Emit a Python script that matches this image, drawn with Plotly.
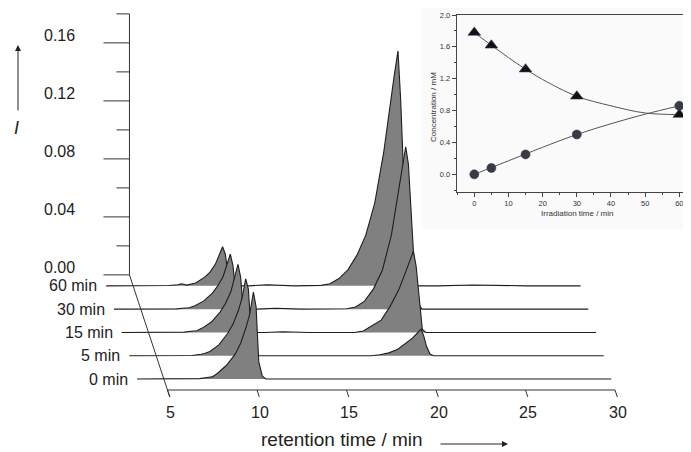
import plotly.graph_objects as go

# chromatograms (retention time / min and intensity)
retention_time = [3.5, 5.0, 6.0, 7.0, 7.5, 7.7, 8.0, 8.5, 9.0, 9.3, 9.6, 9.8, 10.0, 10.15, 10.3, 10.5, 10.7,
	11.5, 12.5, 14.0, 15.5, 16.0, 16.5, 17.0, 17.5, 18.0, 18.5, 19.0, 19.3, 19.6, 19.8, 19.95,
	20.1, 20.3, 20.5, 20.7, 22.0, 24.0, 27.0, 30.0]

intensity_0min = [0, 0, 0, 0.0003, 0.0012, 0.0015, 0.004, 0.0095, 0.0175, 0.025, 0.036, 0.045, 0.060, 0.050, 0.012, 0.002, 0,
	0, 0.0005, 0, 0, 0, 0, 0, 0, 0, 0, 0, 0, 0, 0.0004, 0.0003,
	0, 0, 0, 0, 0, 0, 0, 0]
intensity_5min = [0, 0, 0, 0.0002, 0.001, 0.0015, 0.003, 0.0075, 0.0155, 0.022, 0.0315, 0.040, 0.053, 0.046, 0.017, 0.003, 0,
	0, 0.0004, 0, 0, 0, 0, 0, 0.0007, 0.002, 0.0045, 0.009, 0.012, 0.0158, 0.0184, 0.0135,
	0.0065, 0.0012, 0, 0, 0, 0, 0, 0]
intensity_15min = [0, 0, 0, 0.0002, 0.001, 0.0012, 0.003, 0.007, 0.014, 0.020, 0.028, 0.037, 0.047, 0.038, 0.014, 0.002, 0,
	0, 0.0005, 0, 0, 0, 0, 0.001, 0.0045, 0.0085, 0.018, 0.030, 0.0395, 0.050, 0.056, 0.046,
	0.025, 0.002, 0, 0, 0, 0, 0, 0]
intensity_30min = [0, 0, 0, 0.0002, 0.0008, 0.001, 0.0022, 0.0055, 0.011, 0.016, 0.0225, 0.030, 0.038, 0.030, 0.012, 0.002, 0,
	0, 0.0006, 0, 0, 0.0002, 0.0003, 0.0015, 0.0055, 0.014, 0.027, 0.051, 0.073, 0.097, 0.112, 0.100,
	0.070, 0.025, 0.004, 0, 0, 0, 0, 0]
intensity_60min = [0, 0, 0, 0.0002, 0.0008, 0.0014, 0.0005, 0.002, 0.006, 0.0095, 0.015, 0.021, 0.027, 0.022, 0.009, 0.0015, 0,
	0, 0.0008, 0, 0.0003, 0.0015, 0.005, 0.011, 0.021, 0.035, 0.057, 0.092, 0.121, 0.146, 0.162, 0.128,
	0.080, 0.030, 0.006, 0, 0, 0.0006, 0, 0]

row_labels = ['0 min', '5 min', '15 min', '30 min', '60 min']
row_intensities = [intensity_0min, intensity_5min, intensity_15min, intensity_30min, intensity_60min]

intensity_ticks = [0.00, 0.04, 0.08, 0.12, 0.16]
intensity_minor_ticks = [0.02, 0.06, 0.10, 0.14, 0.18]
time_ticks = [5, 10, 15, 20, 25, 30]

# inset: concentration vs irradiation time
irradiation_time = [0, 5, 15, 30, 60]
conc_triangles = [1.78, 1.62, 1.32, 0.98, 0.75]
conc_circles = [0.0, 0.08, 0.25, 0.50, 0.86]
fit_time = [0, 5, 10, 15, 20, 30, 40, 50, 60]
fit_triangles = [1.78, 1.62, 1.465, 1.32, 1.19, 0.98, 0.86, 0.77, 0.75]
fit_circles = [0.0, 0.085, 0.17, 0.255, 0.34, 0.50, 0.635, 0.755, 0.86]

PAGE = 8  # default body margin of the html page
W, H = 691 - PAGE, 452 - PAGE
FONT = 'Liberation Sans, Arial, sans-serif'

def px_x(p):
	return (p - PAGE) / W

def px_y(p):
	return 1 - (p - PAGE) / H

# pseudo-3D projection: px per minute / per intensity unit and per depth step
PX_PER_MIN = 17.9
PX_PER_I = 1450
X0 = 5 - (167.5 - PAGE) / PX_PER_MIN
X1 = X0 + W / PX_PER_MIN
Y1 = (390 - PAGE) / PX_PER_I
Y0 = Y1 - H / PX_PER_I
DX = -7.7 / PX_PER_MIN  # shift of each row back (min)
DY = 23.3 / PX_PER_I  # shift of each row up (intensity)
K_FIRST = 0.47
K_BACK = 4.94

fig = go.Figure()

# back rows first so front rows cover them
for i in reversed(range(len(row_labels))):
	k = K_FIRST + i
	fig.add_trace(go.Scatter(
		x=[t + k * DX for t in retention_time],
		y=[v + k * DY for v in row_intensities[i]],
		mode='lines', fill='toself', fillcolor='#808080',
		line=dict(color='#1e1e1e', width=1.1),
		hoverinfo='skip', showlegend=False,
	))
	fig.add_annotation(
		x=retention_time[0] + k * DX, y=k * DY, xref='x', yref='y',
		text=row_labels[i], showarrow=False, xanchor='right', yanchor='middle', xshift=-7,
		font=dict(family=FONT, size=16, color='#222'),
	)

shapes = []
axis_line = dict(color='#333', width=1)
xb = 5 + K_BACK * DX
yb = K_BACK * DY
# back intensity axis
shapes.append(dict(type='line', xref='x', yref='y', x0=xb, x1=xb, y0=yb, y1=yb + 0.18, line=axis_line))
for v in intensity_ticks:
	shapes.append(dict(type='line', xref='x', yref='y', x0=xb - 26 / PX_PER_MIN, x1=xb, y0=yb + v, y1=yb + v, line=axis_line))
	fig.add_annotation(
		x=xb - 52 / PX_PER_MIN, y=yb + v + 7 / PX_PER_I, xref='x', yref='y',
		text=f'{v:.2f}', showarrow=False, xanchor='right', yanchor='middle',
		font=dict(family=FONT, size=16, color='#222'),
	)
for v in intensity_minor_ticks:
	shapes.append(dict(type='line', xref='x', yref='y', x0=xb - 13 / PX_PER_MIN, x1=xb, y0=yb + v, y1=yb + v, line=axis_line))
# depth diagonal
shapes.append(dict(type='line', xref='x', yref='y', x0=xb, y0=yb, x1=5 - 0.3 * DX, y1=-0.3 * DY, line=axis_line))
# front time axis
shapes.append(dict(type='line', xref='x', yref='y', x0=5, x1=30, y0=0, y1=0, line=axis_line))
for t in time_ticks:
	shapes.append(dict(type='line', xref='x', yref='y', x0=t, y0=0, x1=t - 0.3 * DX, y1=-0.3 * DY, line=axis_line))
	fig.add_annotation(
		x=t + 0.15, y=-22 / PX_PER_I, xref='x', yref='y',
		text=str(t), showarrow=False, xanchor='center', yanchor='middle',
		font=dict(family=FONT, size=16, color='#222'),
	)

# inset background
shapes.append(dict(type='rect', xref='paper', yref='paper', x0=px_x(422), x1=1, y0=px_y(230), y1=1,
	fillcolor='#fafafa', line=dict(width=0), layer='below'))

def label(x, y, text, size, angle=0, color='#222'):
	fig.add_annotation(x=px_x(x), y=px_y(y), xref='paper', yref='paper', text=text, textangle=angle,
		showarrow=False, xanchor='center', yanchor='middle', borderpad=0,
		font=dict(family=FONT, size=size, color=color))

# axis titles and arrows
label(341.5, 439.5, 'retention time / min', 19)
label(16, 128, '<i>I</i>', 18)
fig.add_annotation(x=px_x(508), y=px_y(444), xref='paper', yref='paper', text='',
	showarrow=True, ax=-69, ay=0, arrowhead=2, arrowsize=1.2, arrowwidth=1, arrowcolor='#222', standoff=0)
fig.add_annotation(x=px_x(18), y=px_y(45), xref='paper', yref='paper', text='',
	showarrow=True, ax=0, ay=67, arrowhead=2, arrowsize=1.2, arrowwidth=1, arrowcolor='#222', standoff=0)

# inset
fig.add_trace(go.Scatter(x=fit_time, y=fit_triangles, mode='lines', line=dict(color='#555', width=1, shape='spline'),
	xaxis='x2', yaxis='y2', showlegend=False, hoverinfo='skip'))
fig.add_trace(go.Scatter(x=fit_time, y=fit_circles, mode='lines', line=dict(color='#555', width=1, shape='spline'),
	xaxis='x2', yaxis='y2', showlegend=False, hoverinfo='skip'))
fig.add_trace(go.Scatter(x=irradiation_time, y=conc_triangles, mode='markers',
	marker=dict(symbol='triangle-up', size=11, color='#111', line=dict(color='#2a3a5a', width=0.6)),
	xaxis='x2', yaxis='y2', showlegend=False))
fig.add_trace(go.Scatter(x=irradiation_time, y=conc_circles, mode='markers',
	marker=dict(symbol='circle', size=9, color='#3a3b42', line=dict(color='#2a3a5a', width=0.6)),
	xaxis='x2', yaxis='y2', showlegend=False))
label(433, 107, 'Concentration / mM', 8, angle=-90, color='#333')
label(577, 213, 'Irradiation time / min', 8, color='#333')

inset_tick_font = dict(family=FONT, size=7.5, color='#333')
fig.update_layout(
	width=W, height=H,
	margin=dict(l=0, r=0, t=0, b=0, autoexpand=False),
	paper_bgcolor='white', plot_bgcolor='rgba(0,0,0,0)',
	shapes=shapes,
	xaxis=dict(domain=[0, 1], range=[X0, X1], visible=False, fixedrange=True),
	yaxis=dict(domain=[0, 1], range=[Y0, Y1], visible=False, fixedrange=True),
	xaxis2=dict(domain=[px_x(456.7), 1], range=[-5.15, 63.42], anchor='y2',
		showline=True, linecolor='#444', linewidth=1, mirror=True, showgrid=False, zeroline=False,
		ticks='outside', ticklen=4, tickcolor='#444', dtick=10, tick0=0,
		minor=dict(ticks='outside', ticklen=2, dtick=5, tick0=0, tickcolor='#444'),
		tickfont=inset_tick_font),
	yaxis2=dict(domain=[px_y(191.7), px_y(15)], range=[-0.218, 2.0], anchor='x2',
		showline=True, linecolor='#444', linewidth=1, showgrid=False, zeroline=False,
		ticks='outside', ticklen=4, tickcolor='#444', dtick=0.4, tick0=0, tickformat='.1f',
		minor=dict(ticks='outside', ticklen=2, dtick=0.2, tick0=0, tickcolor='#444'),
		tickfont=inset_tick_font),
)

fig.write_html('out.html')
